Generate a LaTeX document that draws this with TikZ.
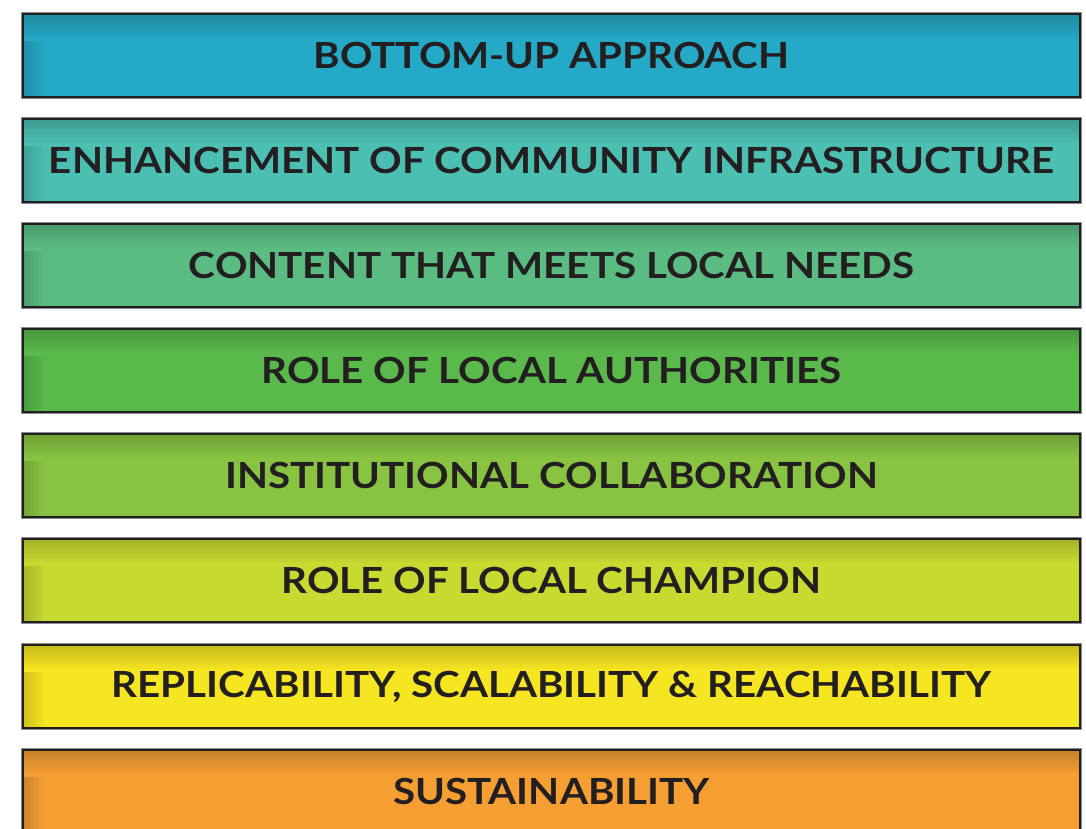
\documentclass[tikz,border=0pt]{standalone}
\usepackage{fontspec}
\setmainfont{Lato}[FakeStretch=1.12]
\definecolor{txt}{HTML}{231F20}
\definecolor{c1}{HTML}{24A9C6}
\definecolor{c2}{HTML}{4BBFB2}
\definecolor{c3}{HTML}{5BBC82}
\definecolor{c4}{HTML}{59B94B}
\definecolor{c5}{HTML}{88C441}
\definecolor{c6}{HTML}{C7DA2F}
\definecolor{c7}{HTML}{F6E521}
\definecolor{c8}{HTML}{F59F33}
\tikzset{
  gbox/.style={rectangle, anchor=north west, draw=black!88, line width=2pt,
    minimum width=1057pt, minimum height=83pt, inner sep=0pt,
    text=txt, font=\bfseries\fontsize{36}{36}\selectfont,
    preaction={draw=black!45, line width=4pt},
    path picture={
      \foreach \i in {0,...,24}{
        \pgfmathtruncatemacro\p{min(100,84+0.75*\i)}
        \fill[cc!\p!black]
          ([xshift=\i pt]path picture bounding box.north west) rectangle
          ([xshift=\i pt+1.2pt]path picture bounding box.south west);
      }
      \foreach \i in {0,...,26}{
        \pgfmathtruncatemacro\p{min(100,82+0.75*\i)}
        \fill[cc!\p!black]
          ([yshift=-\i pt]path picture bounding box.north west) rectangle
          ([yshift=-\i pt-1.2pt]path picture bounding box.north east);
      }
    }}
}
\newcommand\gbox[4]{%
  \colorlet{cc}{#3}%
  \node[gbox, fill=cc] (#1) at (22,#2) {#4};%
}
\begin{document}
\begin{tikzpicture}[x=1pt,y=-1pt]
\useasboundingbox (0,0) rectangle (1086,828);
\clip (0,0) rectangle (1086,828);
\gbox{b1}{13}{c1}{BOTTOM-UP APPROACH}
\gbox{b2}{118}{c2}{ENHANCEMENT OF COMMUNITY INFRASTRUCTURE}
\gbox{b3}{223}{c3}{CONTENT THAT MEETS LOCAL NEEDS}
\gbox{b4}{328}{c4}{ROLE OF LOCAL AUTHORITIES}
\gbox{b5}{433}{c5}{INSTITUTIONAL COLLABORATION}
\gbox{b6}{538}{c6}{ROLE OF LOCAL CHAMPION}
\gbox{b7}{644}{c7}{REPLICABILITY, SCALABILITY \& REACHABILITY}
\gbox{b8}{749}{c8}{SUSTAINABILITY}
\end{tikzpicture}
\end{document}
